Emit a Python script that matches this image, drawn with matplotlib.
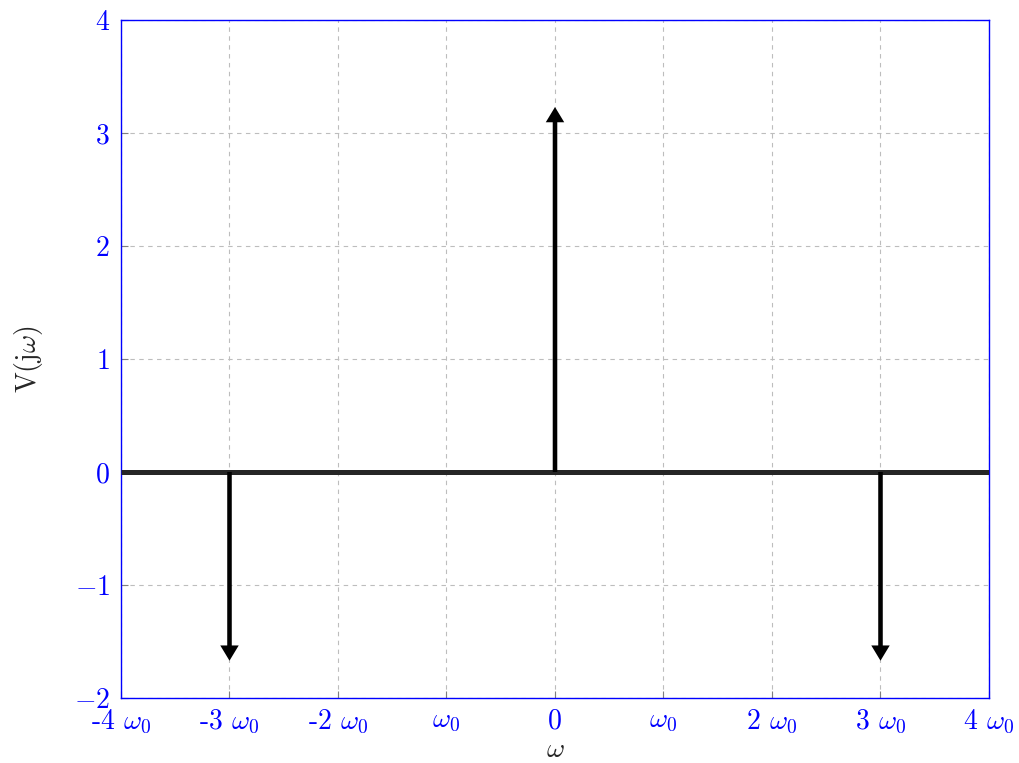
import matplotlib
matplotlib.use("Agg")
import matplotlib.pyplot as plt

# Data
impulse_freqs = [-3, 0, 3]            # in units of omega_0
impulse_heights = [-1.67, 3.23, -1.67]
x_ticks = [-4, -3, -2, -1, 0, 1, 2, 3, 4]
x_tick_labels = ["-4 $\\omega_0$", "-3 $\\omega_0$", "-2 $\\omega_0$", "$\\omega_0$", "0",
                 "$\\omega_0$", "2 $\\omega_0$", "3 $\\omega_0$", "4 $\\omega_0$"]
y_ticks = [-2, -1, 0, 1, 2, 3, 4]
y_tick_labels = ["$-2$", "$-1$", "$0$", "$1$", "$2$", "$3$", "$4$"]
baseline_x = [-4, 4]
baseline_y = [0, 0]

plt.rcParams["font.family"] = ["cmr10", "DejaVu Serif"]
plt.rcParams["mathtext.fontset"] = "cm"
plt.rcParams["axes.formatter.use_mathtext"] = True

W, H = 1020, 763
fig = plt.figure(figsize=(W / 100, H / 100), dpi=100)
ax = fig.add_axes([121 / W, (H - 698) / H, (989 - 121) / W, (698 - 20) / H])

ax.set_xlim(-4, 4)
ax.set_ylim(-2, 4)

blue = "#0000ff"
for s in ax.spines.values():
    s.set_color(blue)
    s.set_linewidth(1.0)

ax.grid(True, color="#bdbdbd", linestyle=(0, (4, 4)), linewidth=0.8)
ax.set_axisbelow(True)

ax.set_xticks(x_ticks)
ax.set_xticklabels(x_tick_labels)
ax.set_yticks(y_ticks)
ax.set_yticklabels(y_tick_labels)
ax.tick_params(axis="both", direction="in", length=5, width=0.8, color="#7f7f7f",
               labelcolor=blue, labelsize=20)
ax.tick_params(axis="x", pad=7)
ax.tick_params(axis="y", pad=8)

ax.plot(baseline_x, baseline_y, color="#262626", linewidth=3.6, solid_capstyle="butt", zorder=3)

for f, h in zip(impulse_freqs, impulse_heights):
    ax.arrow(f, 0, 0, h, width=0.042, head_width=0.17, head_length=0.135,
             length_includes_head=True, fc="black", ec="none", zorder=4)

ax.set_xlabel("$\\omega$", fontsize=20, color="#262626", labelpad=1)
ax.set_ylabel("V(j$\\omega$)", fontsize=20, color="#262626", labelpad=21)

fig.savefig("out.png", dpi=100)
